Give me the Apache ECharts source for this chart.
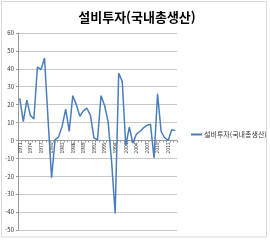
<!DOCTYPE html>
<html lang="ko">
<head>
<meta charset="UTF-8">
<title>설비투자</title>
<script src="https://cdn.jsdelivr.net/npm/echarts@6/dist/echarts.min.js"></script>
<style>
html, body { margin: 0; padding: 0; background: #fff; }
</style>
</head>
<body>
<div id="main" style="width: 270px;height:241px;"></div>
<script type="text/javascript">
// years on the category axis
const years = [];
for (let y = 1971; y <= 2015; y++) years.push(String(y));

// growth rate, 1971..2015
const investment = [
  23.5, 10.5, 22.5, 14, 12, 41, 39.5, 46, 12, -20.8,
  0.5, 2, 8, 17.5, 5, 25, 20, 13.5, 16.5, 18,
  14, 1.5, 0.3, 25, 19.5, 10.5, -12, -40.8, 37.5, 33,
  -3, 7.5, -1.5, 3.5, 5, 7, 8.5, 9, -9.8, 26,
  5, 1.5, 0, 6, 5.5
];

const yMin = -50, yMax = 60;
const seriesName = '설비투자(국내총생산)';
const font = '"Noto Sans CJK KR", "Noto Sans", sans-serif';

// plot box
const gridTop = 33, gridBottom = 11, chartH = 241;
// excel puts the category labels at the zero line, so shift the x axis up to it
const plotH = chartH - gridTop - gridBottom;
const zeroOffset = -plotH * (0 - yMin) / (yMax - yMin);

let myChart = echarts.init(document.getElementById('main'));

let options = {
  animation: false,
  backgroundColor: '#fff',
  textStyle: { fontFamily: font },
  title: {
    text: seriesName,
    left: 132,
    textAlign: 'center',
    top: 6,
    textStyle: { fontSize: 13, fontWeight: 'bold', color: '#000', fontFamily: font }
  },
  legend: {
    data: [seriesName],
    left: 186,
    top: 126,
    icon: 'rect',
    itemWidth: 11,
    itemHeight: 2,
    itemGap: 0,
    textStyle: { fontSize: 7, color: '#333', padding: [0, 0, 0, -3] }
  },
  graphic: [{
    type: 'rect',
    shape: { x: 1.5, y: 1.5, width: 265, height: 235.5 },
    style: { fill: null, stroke: '#d9d9d9', lineWidth: 1 },
    silent: true
  }],
  grid: { left: 18, top: gridTop, right: 93, bottom: gridBottom, containLabel: false },
  xAxis: {
    type: 'category',
    data: years,
    boundaryGap: true,
    offset: zeroOffset,
    axisLine: { onZero: false, lineStyle: { color: '#999', width: 1 } },
    axisTick: { show: true, interval: 0, length: 2, lineStyle: { color: '#999' } },
    axisLabel: { interval: 2, rotate: 90, fontSize: 5, margin: 2, color: '#333' }
  },
  yAxis: {
    type: 'value',
    min: yMin,
    max: yMax,
    interval: 10,
    axisLine: { show: true, lineStyle: { color: '#999' } },
    axisTick: { show: true, length: 2, lineStyle: { color: '#999' } },
    axisLabel: { fontSize: 6, margin: 4, color: '#333' },
    splitLine: { lineStyle: { color: '#c8c8c8', width: 1 } }
  },
  series: [{
    name: seriesName,
    type: 'line',
    data: investment,
    symbol: 'none',
    lineStyle: { color: '#4a7ebb', width: 1.5 },
    itemStyle: { color: '#4a7ebb' }
  }]
};

myChart.setOption(options);
</script>
</body>
</html>
